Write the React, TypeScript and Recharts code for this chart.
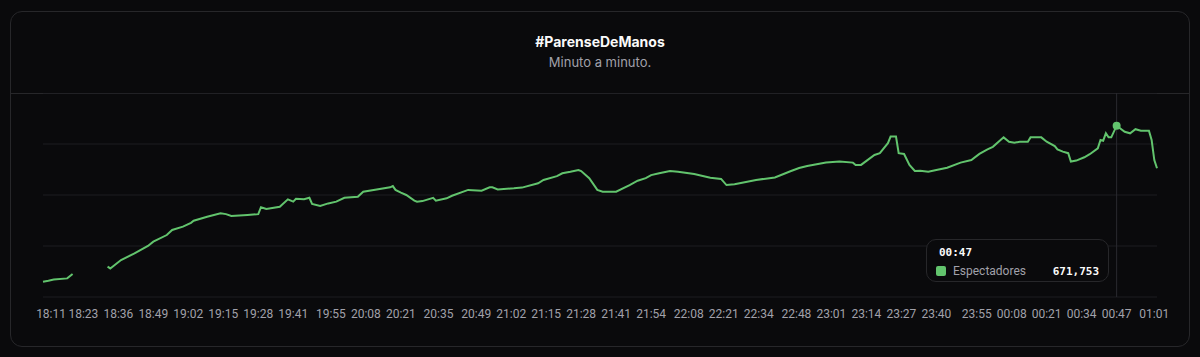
import { LineChart, Line, XAxis, YAxis, CartesianGrid, Tooltip } from "recharts";

// minute-by-minute viewers
const times = [
  "18:08", "18:10", "18:12", "18:17", "18:19", "18:25", "18:32", "18:33", "18:37", "18:42",
  "18:47", "18:49", "18:54", "18:56", "19:00", "19:03", "19:04", "19:09", "19:14", "19:16",
  "19:18", "19:24", "19:28", "19:29", "19:31", "19:36", "19:39", "19:41", "19:42", "19:45",
  "19:47", "19:48", "19:51", "19:54", "19:57", "20:00", "20:05", "20:07", "20:12", "20:17",
  "20:18", "20:19", "20:21", "20:23", "20:26", "20:27", "20:29", "20:33", "20:34", "20:38",
  "20:40", "20:46", "20:51", "20:54", "20:55", "20:57", "21:03", "21:06", "21:12", "21:14",
  "21:19", "21:21", "21:24", "21:27", "21:28", "21:31", "21:34", "21:36", "21:41", "21:46",
  "21:49", "21:52", "21:54", "21:57", "22:01", "22:04", "22:10", "22:16", "22:20", "22:22",
  "22:25", "22:33", "22:40", "22:46", "22:49", "22:52", "22:54", "22:59", "23:04", "23:09",
  "23:10", "23:12", "23:17", "23:19", "23:22", "23:23", "23:25", "23:26", "23:28", "23:30",
  "23:32", "23:34", "23:37", "23:40", "23:44", "23:49", "23:53", "23:56", "23:59", "00:01",
  "00:05", "00:07", "00:09", "00:11", "00:14", "00:15", "00:19", "00:21", "00:24", "00:25",
  "00:27", "00:29", "00:30", "00:32", "00:35", "00:37", "00:40", "00:41", "00:42", "00:43",
  "00:44", "00:45", "00:47", "00:50", "00:52", "00:54", "00:56", "00:58", "00:59", "01:00",
  "01:01", "01:02",
];

const viewers: (number | null)[] = [
  60000, 64000, 69000, 73000, 90000, null, 119000, 112000, 145000, 171000,
  200000, 217000, 243000, 263000, 276000, 291000, 299000, 315000, 328000, 325000,
  318000, 322000, 325000, 352000, 345000, 354000, 383000, 374000, 385000, 383000,
  389000, 365000, 357000, 367000, 374000, 389000, 393000, 413000, 422000, 430000,
  435000, 420000, 409000, 400000, 378000, 374000, 376000, 389000, 378000, 387000,
  397000, 420000, 417000, 430000, 430000, 422000, 426000, 429000, 446000, 459000,
  474000, 485000, 491000, 498000, 494000, 466000, 420000, 413000, 413000, 439000,
  456000, 466000, 478000, 485000, 494000, 491000, 482000, 468000, 463000, 439000,
  442000, 459000, 469000, 494000, 506000, 514000, 518000, 527000, 531000, 527000,
  518000, 518000, 557000, 564000, 603000, 629000, 629000, 564000, 561000, 518000,
  494000, 495000, 491000, 498000, 507000, 527000, 537000, 561000, 579000, 589000,
  626000, 609000, 605000, 609000, 609000, 626000, 626000, 609000, 592000, 579000,
  570000, 564000, 531000, 535000, 548000, 560000, 583000, 616000, 613000, 642000,
  626000, 626000, 671753, 648000, 642000, 658000, 652000, 652000, 652000, 616000,
  537000, 505000,
];

const tickLabels = [
  "18:11", "18:23", "18:36", "18:49", "19:02", "19:15", "19:28", "19:41", "19:55", "20:08",
  "20:21", "20:35", "20:49", "21:02", "21:15", "21:28", "21:41", "21:54", "22:08", "22:21",
  "22:34", "22:48", "23:01", "23:14", "23:27", "23:40", "23:55", "00:08", "00:21", "00:34",
  "00:47", "01:01",
];

const yTicks = [0, 200000, 400000, 600000, 800000];

const GREEN = "#62c46d";
const BASE = 18 * 60 + 8;

function toMinutes(label: string) {
  const [h, m] = label.split(":").map(Number);
  let v = h * 60 + m;
  if (v < BASE - 60) v += 1440;
  return v - BASE;
}

function formatMinutes(t: number) {
  const v = (BASE + t) % 1440;
  const pad = (n: number) => String(n).padStart(2, "0");
  return `${pad(Math.floor(v / 60))}:${pad(v % 60)}`;
}

const data = times.map((time, i) => ({ t: toMinutes(time), viewers: viewers[i] }));
const ticks = tickLabels.map(toMinutes);
const activeIndex = times.indexOf("00:47");

function TooltipBox({ active, payload, label }: any) {
  if (!active || !payload || !payload.length) return null;
  return (
    <div
      style={{
        boxSizing: "border-box",
        width: 183,
        height: 43,
        border: "1px solid #27272a",
        borderRadius: 10,
        background: "#0a0a0c",
        padding: "6px 9px 0 9px",
      }}
    >
      <div
        style={{
          fontFamily: "'DejaVu Sans Mono', monospace",
          fontWeight: 700,
          fontSize: 11,
          color: "#fafafa",
          paddingLeft: 3,
          lineHeight: "14px",
        }}
      >
        {formatMinutes(label)}
      </div>
      <div style={{ display: "flex", alignItems: "center", marginTop: 4, height: 14 }}>
        <span style={{ width: 10, height: 10, borderRadius: 2, background: GREEN, marginRight: 7 }} />
        <span style={{ fontFamily: "Roboto, sans-serif", fontSize: 12, color: "#a1a1aa", flex: 1 }}>
          Espectadores
        </span>
        <span
          style={{
            fontFamily: "'DejaVu Sans Mono', monospace",
            fontWeight: 700,
            fontSize: 11,
            color: "#fafafa",
          }}
        >
          {Number(payload[0].value).toLocaleString("en-US")}
        </span>
      </div>
    </div>
  );
}

export default function App() {
  return (
    <div
      style={{
        position: "fixed",
        left: 0,
        top: 0,
        width: 1200,
        height: 357,
        background: "#0a0a0c",
        fontFamily: "Inter, sans-serif",
      }}
    >
      <div
        style={{
          position: "absolute",
          left: 10,
          top: 11,
          width: 1180,
          height: 336,
          boxSizing: "border-box",
          border: "1px solid #27272a",
          borderRadius: 12,
          background: "#0a0a0c",
        }}
      >
        <div style={{ position: "relative", height: 81, borderBottom: "1px solid #27272a" }}>
          <div
            style={{
              position: "absolute",
              top: 20,
              width: "100%",
              textAlign: "center",
              color: "#fafafa",
              fontWeight: 700,
              fontSize: 14,
              lineHeight: "20px",
            }}
          >
            #ParenseDeManos
          </div>
          <div
            style={{
              position: "absolute",
              top: 41,
              width: "100%",
              textAlign: "center",
              color: "#a1a1aa",
              fontSize: 13,
              lineHeight: "18px",
            }}
          >
            Minuto a minuto.
          </div>
        </div>
      </div>
      <div style={{ position: "absolute", left: 0, top: 93 }}>
        <LineChart width={1200} height={254} data={data} margin={{ top: 0, right: 43, bottom: 20, left: 43 }}>
          <CartesianGrid vertical={false} stroke="#1c1c20" />
          <XAxis
            dataKey="t"
            type="number"
            domain={["dataMin", "dataMax"]}
            ticks={ticks}
            interval={0}
            tickFormatter={formatMinutes}
            axisLine={false}
            tickLine={false}
            tickSize={0}
            tickMargin={12}
            height={30}
            tick={{ fill: "#a1a1aa", fontSize: 12, fontFamily: "Roboto, sans-serif" }}
          />
          <YAxis hide domain={[0, 800000]} ticks={yTicks} />
          <Tooltip
            active
            defaultIndex={activeIndex}
            position={{ x: 926, y: 146 }}
            cursor={{ stroke: "#2a2a2f", strokeWidth: 1 }}
            content={<TooltipBox />}
            isAnimationActive={false}
          />
          <Line
            type="linear"
            dataKey="viewers"
            name="Espectadores"
            stroke={GREEN}
            strokeWidth={2}
            dot={false}
            activeDot={{ r: 4, fill: GREEN, stroke: "none" }}
            isAnimationActive={false}
          />
        </LineChart>
      </div>
    </div>
  );
}
